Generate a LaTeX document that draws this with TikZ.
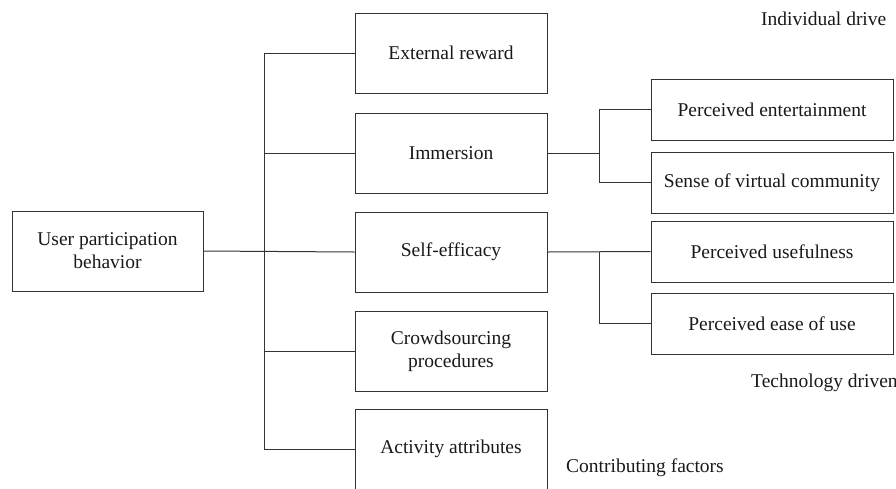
\documentclass[tikz,border=0pt]{standalone}
\usepackage{fontspec}
\setmainfont{Liberation Serif}
\newfontfamily\tnrfont{Liberation Serif}
\begin{document}
\begin{tikzpicture}[x=1pt,y=-1pt,
  every node/.style={font=\tnrfont\fontsize{19.5}{23}\selectfont, text=black!90},
  box/.style={draw=black!80, line width=1pt, rectangle, align=center, inner sep=0pt},
  midbox/.style={box, minimum width=192pt, minimum height=80pt},
  rbox/.style={box, minimum width=242pt, minimum height=61pt},
  conn/.style={draw=black!80, line width=1pt},
  lab/.style={anchor=base west, inner sep=0pt}]
\clip (0,0) rectangle (896,488);
\useasboundingbox (0,0) rectangle (896,488);
\node[box, minimum width=191pt, minimum height=80pt] (L) at (107.5,251) {User participation\\behavior};
\node[midbox] (E) at (451,53) {External reward};
\node[midbox] (I) at (451,153) {Immersion};
\node[midbox] (S) at (451,252) {Self-efficacy};
\node[midbox] (C) at (451,351) {Crowdsourcing\\procedures};
\node[midbox] (A) at (451,449) {Activity attributes};
\node[rbox] (PE) at (772,109.5) {Perceived entertainment};
\node[rbox] (SV) at (772,182.5) {Sense of virtual community};
\node[rbox] (PU) at (772,251.5) {Perceived usefulness};
\node[rbox] (PEU) at (772,323.5) {Perceived ease of use};
\node[lab] (t1) at (761,25) {Individual drive};
\node[lab] (t2) at (751,387) {Technology driven};
\node[lab] (t3) at (566,472) {Contributing factors};
\coordinate (T) at (264,0);
\coordinate (B) at (599,0);
\draw[conn] (L.east) -- (S.west);
\draw[conn] (E.west) -- (E.west -| T) -- (A.west -| T) -- (A.west);
\draw[conn] (I.west -| T) -- (I.west);
\draw[conn] (C.west -| T) -- (C.west);
\draw[conn] (I.east) -- (I.east -| B);
\draw[conn] (PE.west) -- (PE.west -| B) |- (SV.west);
\draw[conn] (S.east) -- (PU.west);
\draw[conn] (S.east -| B) |- (PEU.west);
\end{tikzpicture}
\end{document}
